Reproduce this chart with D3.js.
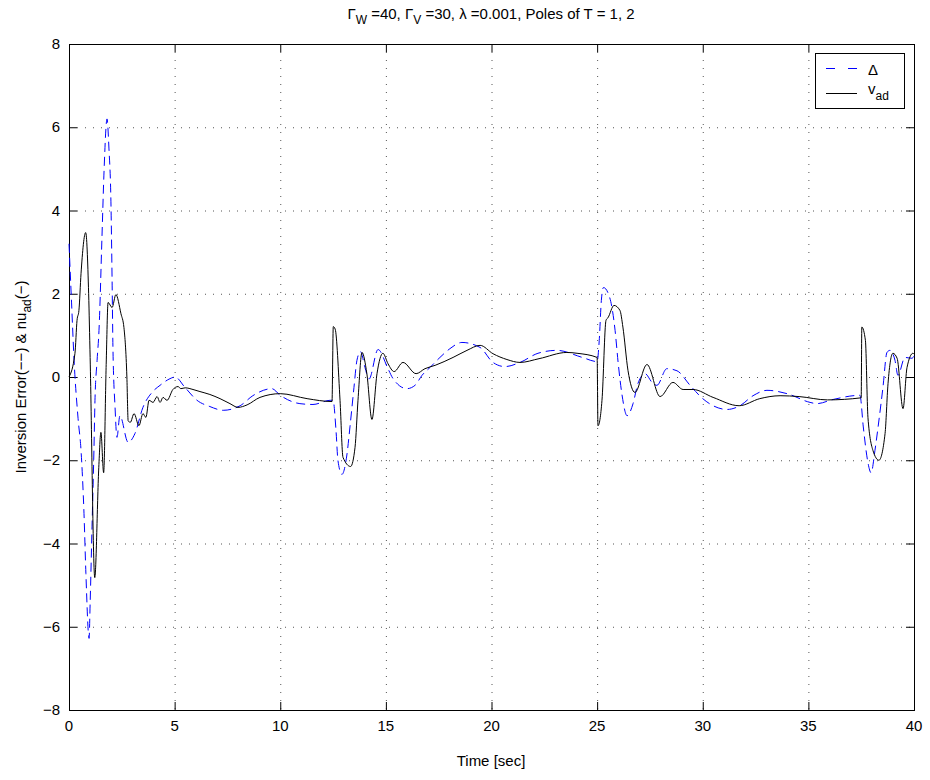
<!DOCTYPE html>
<html>
<head>
<meta charset="utf-8">
<script src="https://cdnjs.cloudflare.com/ajax/libs/d3/7.8.5/d3.min.js"></script>
<style>
    body { margin: 0; background: white; }
    text { font-family: "Liberation Sans", Arial, sans-serif; }
</style>
</head>
<body>
<div id="chart"></div>
<script>
// time samples and values
let vadTime = [0, 0.28, 0.38, 0.47, 0.57, 0.79, 0.93, 1.0, 1.22, 1.41, 1.51, 1.64, 1.76, 1.85, 2.04, 2.22, 2.46, 2.6, 2.74, 2.8,
    2.9, 3.08, 3.31, 3.5, 3.64, 3.79, 3.98, 4.17, 4.31, 4.45, 4.64, 4.92, 5.16, 5.3, 5.5, 5.87, 6.2, 6.67, 7.15, 7.62,
    8.0, 8.43, 9.04, 10, 11.27, 12.45, 12.51, 12.6, 12.83, 12.97, 13.33, 13.54, 13.68, 13.87, 14.1, 14.34, 14.58, 14.86, 15.1, 15.39,
    15.81, 16.43, 16.85, 17.33, 18.18, 18.84, 19.46, 20.07, 20.73, 21.35, 22.25, 23.57, 24.05, 25.0, 25.04, 25.23, 25.42, 25.52, 25.8, 26.08,
    26.22, 26.46, 26.79, 27.36, 27.98, 28.59, 29.07, 29.54, 30.49, 31.72, 32.7, 33.66, 34.56, 35.9, 37.5, 37.53, 37.7, 37.82, 38.06, 38.34,
    38.63, 38.77, 39.0, 39.2, 39.48, 39.67, 39.95, 40];
let vadValues = [0, 0.56, 1.36, 1.6, 2.49, 3.47, 2.0, 0.47, -4.82, -2.17, -1.33, -2.3, 0.3, 1.79, 1.67, 1.98, 1.52, 1.19, 0, -1.05,
    -1.09, -0.88, -1.17, -0.88, -0.97, -0.56, -0.61, -0.47, -0.61, -0.49, -0.56, -0.3, -0.23, -0.28, -0.26, -0.3, -0.35, -0.42, -0.52, -0.64,
    -0.73, -0.67, -0.49, -0.4, -0.52, -0.59, 1.21, 1.15, -0.56, -1.93, -2.15, -1.69, -0.56, 0.59, 0.08, -1.02, 0.08, 0.57, 0.32, 0.13,
    0.35, 0.08, 0.2, 0.28, 0.47, 0.64, 0.76, 0.56, 0.42, 0.35, 0.44, 0.59, 0.57, 0.47, -1.17, -0.56, 1.36, 1.43, 1.72, 1.6,
    1.2, 0.16, -0.37, 0.3, -0.47, -0.13, -0.3, -0.3, -0.49, -0.69, -0.52, -0.45, -0.47, -0.55, -0.5, 1.2, 0.88, -0.97, -1.77, -2.0,
    -1.36, -0.16, 0.57, 0.45, -0.76, 0.23, 0.57, 0.55];

let deltaTime = [0, 0.12, 0.24, 0.43, 0.57, 0.71, 0.8, 0.95, 1.0, 1.09, 1.18, 1.23, 1.33, 1.42, 1.56, 1.66, 1.8, 1.89, 1.99, 2.04,
    2.08, 2.18, 2.27, 2.41, 2.8, 3.12, 3.5, 3.93, 4.31, 4.78, 5.02, 5.49, 6.06, 6.67, 7.3, 8.1, 8.7, 9.6, 10, 10.93,
    11.55, 12.36, 12.5, 12.64, 12.73, 12.92, 13.16, 13.3, 13.49, 13.63, 13.8, 14.01, 14.2, 14.63, 15.1, 15.34, 16.0, 16.38, 16.71, 17.09,
    17.56, 18.03, 18.6, 19.46, 20.07, 20.64, 21.35, 22.2, 23.1, 24.3, 25.0, 25.1, 25.2, 25.3, 25.6, 25.85, 26.0, 26.17, 26.42, 26.7,
    26.93, 27.27, 27.6, 27.83, 28.3, 28.78, 29.4, 30.0, 30.49, 31.15, 31.76, 32.38, 33.04, 33.99, 35.08, 35.4, 36.17, 37.44, 37.6, 37.8,
    37.97, 38.15, 38.3, 38.53, 38.72, 38.86, 39.1, 39.24, 39.57, 39.9, 40];
let deltaValues = [3.2, 1.8, 0.4, -1.0, -1.77, -3.28, -4.72, -6.28, -5.45, -3.6, -1.77, -0.56, 0.4, 1.12, 3.35, 4.96, 6.2, 5.5, 4.07, 2.32,
    0.71, -0.73, -1.45, -0.93, -1.57, -1.36, -0.73, -0.37, -0.2, -0.04, 0, -0.25, -0.56, -0.71, -0.8, -0.69, -0.45, -0.28, -0.44, -0.64,
    -0.66, -0.56, -0.56, -1.29, -2.0, -2.34, -1.85, -1.2, -0.25, 0.4, 0.61, 0.23, -0.05, 0.66, 0.2, -0.04, -0.28, -0.2, 0.04, 0.23,
    0.47, 0.68, 0.83, 0.71, 0.35, 0.25, 0.35, 0.57, 0.64, 0.47, 0.37, 0.88, 1.84, 2.15, 1.9, 1.12, 0.32, -0.4, -0.93, -0.64,
    -0.16, 0.08, -0.13, -0.2, 0.2, 0.15, -0.2, -0.52, -0.69, -0.78, -0.69, -0.45, -0.32, -0.4, -0.61, -0.64, -0.54, -0.44, -1.2, -2.0,
    -2.3, -1.77, -1.2, -0.25, 0.59, 0.64, 0.4, 0.04, 0.47, 0.45, 0.5];

let xTicks = [0, 5, 10, 15, 20, 25, 30, 35, 40];
let yTicks = [-8, -6, -4, -2, 0, 2, 4, 6, 8];

function drawChart() {
    let width = 930;
    let height = 780;
    let left = 69, right = 914, top = 44, bottom = 710;

    let svg = d3.select("#chart")
        .append("svg")
        .attr("width", width)
        .attr("height", height);

    let x = d3.scaleLinear().domain([0, 40]).range([left, right]);
    let y = d3.scaleLinear().domain([-8, 8]).range([bottom, top]);

    // dotted grid
    svg.append("g")
        .selectAll("line.vgrid")
        .data(xTicks.slice(1, -1))
        .enter()
        .append("line")
        .attr("x1", d => x(d) + 0.5).attr("x2", d => x(d) + 0.5)
        .attr("y1", top).attr("y2", bottom)
        .attr("stroke", "#555")
        .attr("stroke-dasharray", "1,7");

    svg.append("g")
        .selectAll("line.hgrid")
        .data(yTicks.slice(1, -1))
        .enter()
        .append("line")
        .attr("y1", d => y(d) + 0.5).attr("y2", d => y(d) + 0.5)
        .attr("x1", left).attr("x2", right)
        .attr("stroke", "#555")
        .attr("stroke-dasharray", "1,7");

    // inward ticks on all four sides (matlab box)
    let tickLen = 8;
    let ticks = svg.append("g").attr("stroke", "black");
    xTicks.forEach(function (d) {
        ticks.append("line").attr("x1", x(d) + 0.5).attr("x2", x(d) + 0.5).attr("y1", bottom).attr("y2", bottom - tickLen);
        ticks.append("line").attr("x1", x(d) + 0.5).attr("x2", x(d) + 0.5).attr("y1", top).attr("y2", top + tickLen);
    });
    yTicks.forEach(function (d) {
        ticks.append("line").attr("y1", y(d) + 0.5).attr("y2", y(d) + 0.5).attr("x1", left).attr("x2", left + tickLen);
        ticks.append("line").attr("y1", y(d) + 0.5).attr("y2", y(d) + 0.5).attr("x1", right).attr("x2", right - tickLen);
    });

    svg.append("rect")
        .attr("x", left + 0.5).attr("y", top + 0.5)
        .attr("width", right - left).attr("height", bottom - top)
        .attr("fill", "none")
        .attr("stroke", "black");

    // tick labels
    svg.append("g")
        .selectAll("text")
        .data(xTicks)
        .enter()
        .append("text")
        .attr("x", d => x(d))
        .attr("y", bottom + 21)
        .attr("text-anchor", "middle")
        .attr("font-size", 15)
        .text(d => d);

    svg.append("g")
        .selectAll("text")
        .data(yTicks)
        .enter()
        .append("text")
        .attr("x", left - 9)
        .attr("y", d => y(d) + 5)
        .attr("text-anchor", "end")
        .attr("font-size", 15)
        .text(d => d < 0 ? "\u2212" + (-d) : d);

    let line = d3.line()
        .x(d => x(d[0]))
        .y(d => y(d[1]))
        .curve(d3.curveMonotoneX);

    let deltaData = deltaTime.map((t, i) => [t, deltaValues[i]]);
    let vadData = vadTime.map((t, i) => [t, vadValues[i]]);

    svg.append("path")
        .datum(deltaData)
        .attr("d", line)
        .attr("fill", "none")
        .attr("stroke", "blue")
        .attr("stroke-width", 1)
        .attr("stroke-dasharray", "9,5");

    svg.append("path")
        .datum(vadData)
        .attr("d", line)
        .attr("fill", "none")
        .attr("stroke", "black")
        .attr("stroke-width", 1);

    // legend
    let legend = svg.append("g").attr("id", "legend");
    legend.append("rect")
        .attr("x", 815.5).attr("y", 53.5)
        .attr("width", 89).attr("height", 55)
        .attr("fill", "white")
        .attr("stroke", "black");
    legend.append("line")
        .attr("x1", 826).attr("x2", 857).attr("y1", 68.5).attr("y2", 68.5)
        .attr("stroke", "blue")
        .attr("stroke-dasharray", "9,13");
    legend.append("text")
        .attr("x", 868).attr("y", 75)
        .attr("font-size", 15)
        .text("\u0394");
    legend.append("line")
        .attr("x1", 826).attr("x2", 857).attr("y1", 93.5).attr("y2", 93.5)
        .attr("stroke", "black");
    let vad = legend.append("text")
        .attr("x", 868).attr("y", 94)
        .attr("font-size", 15);
    vad.append("tspan").text("v");
    vad.append("tspan").attr("dy", 6).attr("font-size", 12).text("ad");

    // title with greek letters and subscripts
    let title = svg.append("text")
        .attr("x", 491).attr("y", 19)
        .attr("text-anchor", "middle")
        .attr("font-size", 15);
    title.append("tspan").text("\u0393");
    title.append("tspan").attr("dy", 5).attr("font-size", 12).text("W");
    title.append("tspan").attr("dy", -5).text(" =40, \u0393");
    title.append("tspan").attr("dy", 5).attr("font-size", 12).text("V");
    title.append("tspan").attr("dy", -5).text(" =30, \u03bb =0.001, Poles of T = 1, 2");

    svg.append("text")
        .attr("x", 491).attr("y", 766)
        .attr("text-anchor", "middle")
        .attr("font-size", 15)
        .text("Time [sec]");

    let ylab = svg.append("text")
        .attr("transform", "translate(26,377) rotate(-90)")
        .attr("text-anchor", "middle")
        .attr("font-size", 15);
    ylab.append("tspan").text("Inversion Error(\u2212\u2212) & nu");
    ylab.append("tspan").attr("dy", 5).attr("font-size", 12).text("ad");
    ylab.append("tspan").attr("dy", -5).text("(\u2212)");
}

drawChart();
</script>
</body>
</html>
